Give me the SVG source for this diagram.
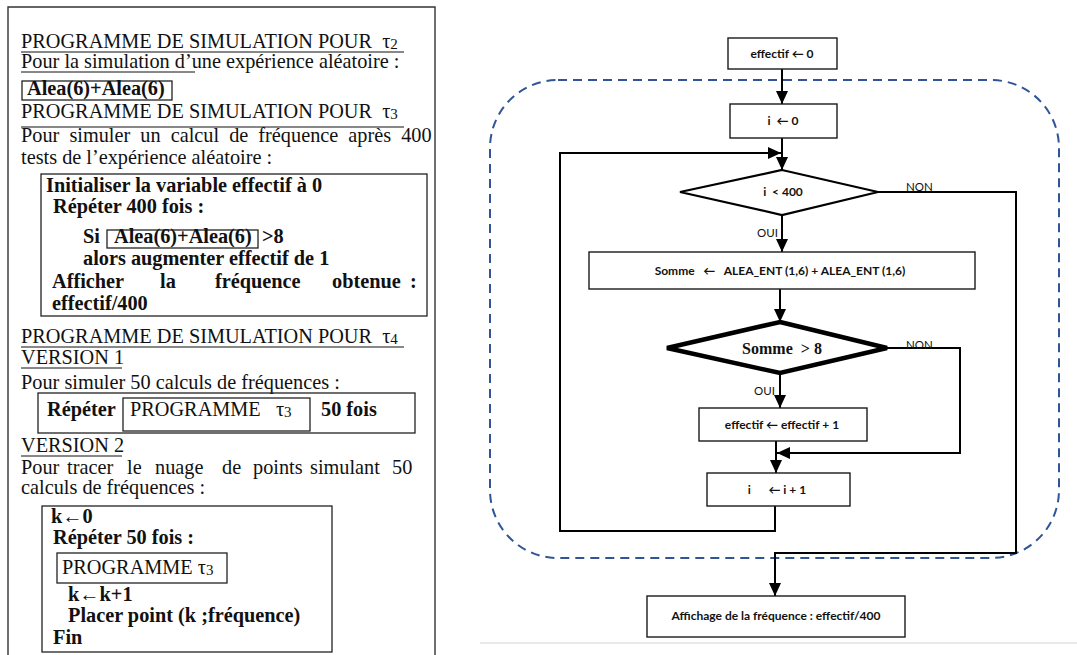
<svg xmlns="http://www.w3.org/2000/svg" width="1077" height="655" viewBox="0 0 1077 655">
<defs>
<marker id="ah" markerUnits="userSpaceOnUse" markerWidth="13" markerHeight="12" refX="13" refY="6" orient="auto" viewBox="0 0 13 12">
<path d="M0,0 L13,6 L0,12 z" fill="#000"/>
</marker>
<style>
text{white-space:pre}
.t{font-family:"Liberation Serif","Times New Roman",serif;font-size:20.3px;fill:#111}
.b{font-weight:bold}
.ul{stroke:#111;stroke-width:1}
.bx{fill:none;stroke:#222;stroke-width:1.3}
.fb{fill:#fff;stroke:#1a1a1a;stroke-width:1.4}
.f{font-family:Lato,"Liberation Sans",sans-serif;font-size:12px;font-weight:bold;fill:#111;text-anchor:middle}
.lb{font-family:Lato,"Liberation Sans",sans-serif;font-size:11.5px;fill:#111}
.c{fill:none;stroke:#000;stroke-width:2}
</style>
</defs>
<rect width="1077" height="655" fill="#fff"/>

<g id="left-panel">
<path d="M8,655 V7 H435 V655" fill="none" stroke="#333" stroke-width="1.4"/>
<text class="t" x="21" y="48">PROGRAMME DE SIMULATION POUR  τ<tspan font-size="15" dy="1">2</tspan></text>
<line class="ul" x1="21" y1="52" x2="404" y2="52"/>
<text class="t" x="21" y="68">Pour la simulation d’une expérience aléatoire :</text>
<line class="ul" x1="21" y1="72" x2="195" y2="72"/>
<rect class="bx" x="22" y="81" width="150" height="19"/>
<text class="t b" x="27" y="95">Alea(6)+Alea(6)</text>
<text class="t" x="21" y="118">PROGRAMME DE SIMULATION POUR  τ<tspan font-size="15" dy="1">3</tspan></text>
<line class="ul" x1="21" y1="127" x2="404" y2="127"/>
<text class="t" x="21" y="142" word-spacing="5">Pour simuler un calcul de fréquence après 400</text>
<text class="t" x="21" y="164">tests de l’expérience aléatoire :</text>
<rect class="bx" x="41" y="174" width="386" height="142"/>
<text class="t b" x="46" y="192">Initialiser la variable effectif à 0</text>
<text class="t b" x="53" y="213">Répéter 400 fois :</text>
<text class="t b" x="83" y="243">Si</text>
<rect class="bx" x="107" y="230" width="151" height="18"/>
<text class="t b" x="114" y="243">Alea(6)+Alea(6)</text>
<text class="t b" x="262" y="243">&gt;8</text>
<text class="t b" x="83" y="265">alors augmenter effectif de 1</text>
<text class="t b" y="288"><tspan x="52">Afficher</tspan><tspan x="160">la</tspan><tspan x="215">fréquence</tspan><tspan x="332">obtenue</tspan><tspan x="410">:</tspan></text>
<text class="t b" x="52" y="310">effectif/400</text>
<text class="t" x="21" y="343">PROGRAMME DE SIMULATION POUR  τ<tspan font-size="15" dy="1">4</tspan></text>
<line class="ul" x1="21" y1="347" x2="404" y2="347"/>
<text class="t" x="21" y="364">VERSION 1</text>
<line class="ul" x1="21" y1="368" x2="122" y2="368"/>
<text class="t" x="21" y="389">Pour simuler 50 calculs de fréquences :</text>
<rect class="bx" x="38" y="393" width="377" height="40"/>
<text class="t b" x="47" y="416">Répéter</text>
<rect class="bx" x="123" y="398" width="187" height="33"/>
<text class="t" x="130" y="416">PROGRAMME   τ<tspan font-size="15" dy="1">3</tspan></text>
<text class="t b" x="321" y="416">50 fois</text>
<text class="t" x="21" y="452">VERSION 2</text>
<line class="ul" x1="21" y1="456" x2="122" y2="456"/>
<text class="t" y="474"><tspan x="21">Pour</tspan><tspan x="67">tracer</tspan><tspan x="127">le</tspan><tspan x="155">nuage</tspan><tspan x="222">de</tspan><tspan x="253">points</tspan><tspan x="310">simulant</tspan><tspan x="392">50</tspan></text>
<text class="t" x="21" y="494">calculs de fréquences :</text>
<rect class="bx" x="42" y="506" width="290" height="146"/>
<text class="t b" x="51" y="523">k←0</text>
<text class="t b" x="53" y="544">Répéter 50 fois :</text>
<rect class="bx" x="57" y="553" width="170" height="30"/>
<text class="t" x="62" y="574">PROGRAMME τ<tspan font-size="15" dy="1">3</tspan></text>
<text class="t b" x="68" y="601">k←k+1</text>
<text class="t b" x="68" y="622">Placer point (k ;fréquence)</text>
<text class="t b" x="53" y="644">Fin</text>
</g>

<line x1="480" y1="643" x2="1077" y2="643" stroke="#e2e2e2" stroke-width="1.5"/>

<g id="loop-frame">
<rect x="490" y="80" width="569" height="478" rx="68" ry="68" fill="none" stroke="#2f5597" stroke-width="2" stroke-dasharray="9,6"/>
</g>

<g id="connectors">
<path class="c" d="M782,69 V104" marker-end="url(#ah)"/>
<path class="c" d="M782,138 V170" marker-end="url(#ah)"/>
<path class="c" d="M775,506 V531 H560 V153 H781" marker-end="url(#ah)"/>
<path class="c" d="M782,215 V252" marker-end="url(#ah)"/>
<path class="c" d="M878,192 H1016 V553 H775 V596" marker-end="url(#ah)"/>
<path class="c" d="M780,289 V322" marker-end="url(#ah)"/>
<path class="c" d="M780,373 V408" marker-end="url(#ah)"/>
<path class="c" d="M887,348 H960 V453 H777" marker-end="url(#ah)"/>
<path class="c" d="M776,441 V473" marker-end="url(#ah)"/>
<text class="lb" x="906" y="191">NON</text>
<text class="lb" x="757" y="237">OUI</text>
<text class="lb" x="906" y="349">NON</text>
<text class="lb" x="754" y="395">OUI</text>
</g>

<g id="n-init-effectif">
<rect class="fb" x="728" y="38" width="109" height="31"/>
<text class="f" x="782" y="58">effectif ← 0</text>
</g>
<g id="n-init-i">
<rect class="fb" x="730" y="104" width="107" height="34"/>
<text class="f" x="783" y="125">i  ← 0</text>
</g>
<g id="n-test-i">
<polygon points="782,170 878,192 782,215 680,192" fill="#fff" stroke="#000" stroke-width="2.2"/>
<text class="f" x="783" y="196">i  &lt; 400</text>
</g>
<g id="n-somme">
<rect class="fb" x="589" y="252" width="386" height="37"/>
<text class="f" x="780" y="275" font-size="12.4">Somme   ←   ALEA_ENT (1,6) + ALEA_ENT (1,6)</text>
</g>
<g id="n-test-somme">
<polygon points="780,322 887,348 780,373 667,348" fill="#fff" stroke="#000" stroke-width="4.5" stroke-linejoin="miter"/>
<text x="782" y="354" font-family="'Liberation Serif','Times New Roman',serif" font-size="16" font-weight="bold" text-anchor="middle" fill="#111">Somme  &gt; 8</text>
</g>
<g id="n-incr-effectif">
<rect class="fb" x="699" y="408" width="168" height="33"/>
<text class="f" x="782" y="429">effectif ← effectif + 1</text>
</g>
<g id="n-incr-i">
<rect class="fb" x="707" y="473" width="143" height="33"/>
<text class="f" x="777" y="494">i      ← i + 1</text>
</g>
<g id="n-affichage">
<rect class="fb" x="647" y="596" width="258" height="41"/>
<text class="f" x="776" y="620" font-size="12.8">Affichage de la fréquence : effectif/400</text>
</g>
</svg>
